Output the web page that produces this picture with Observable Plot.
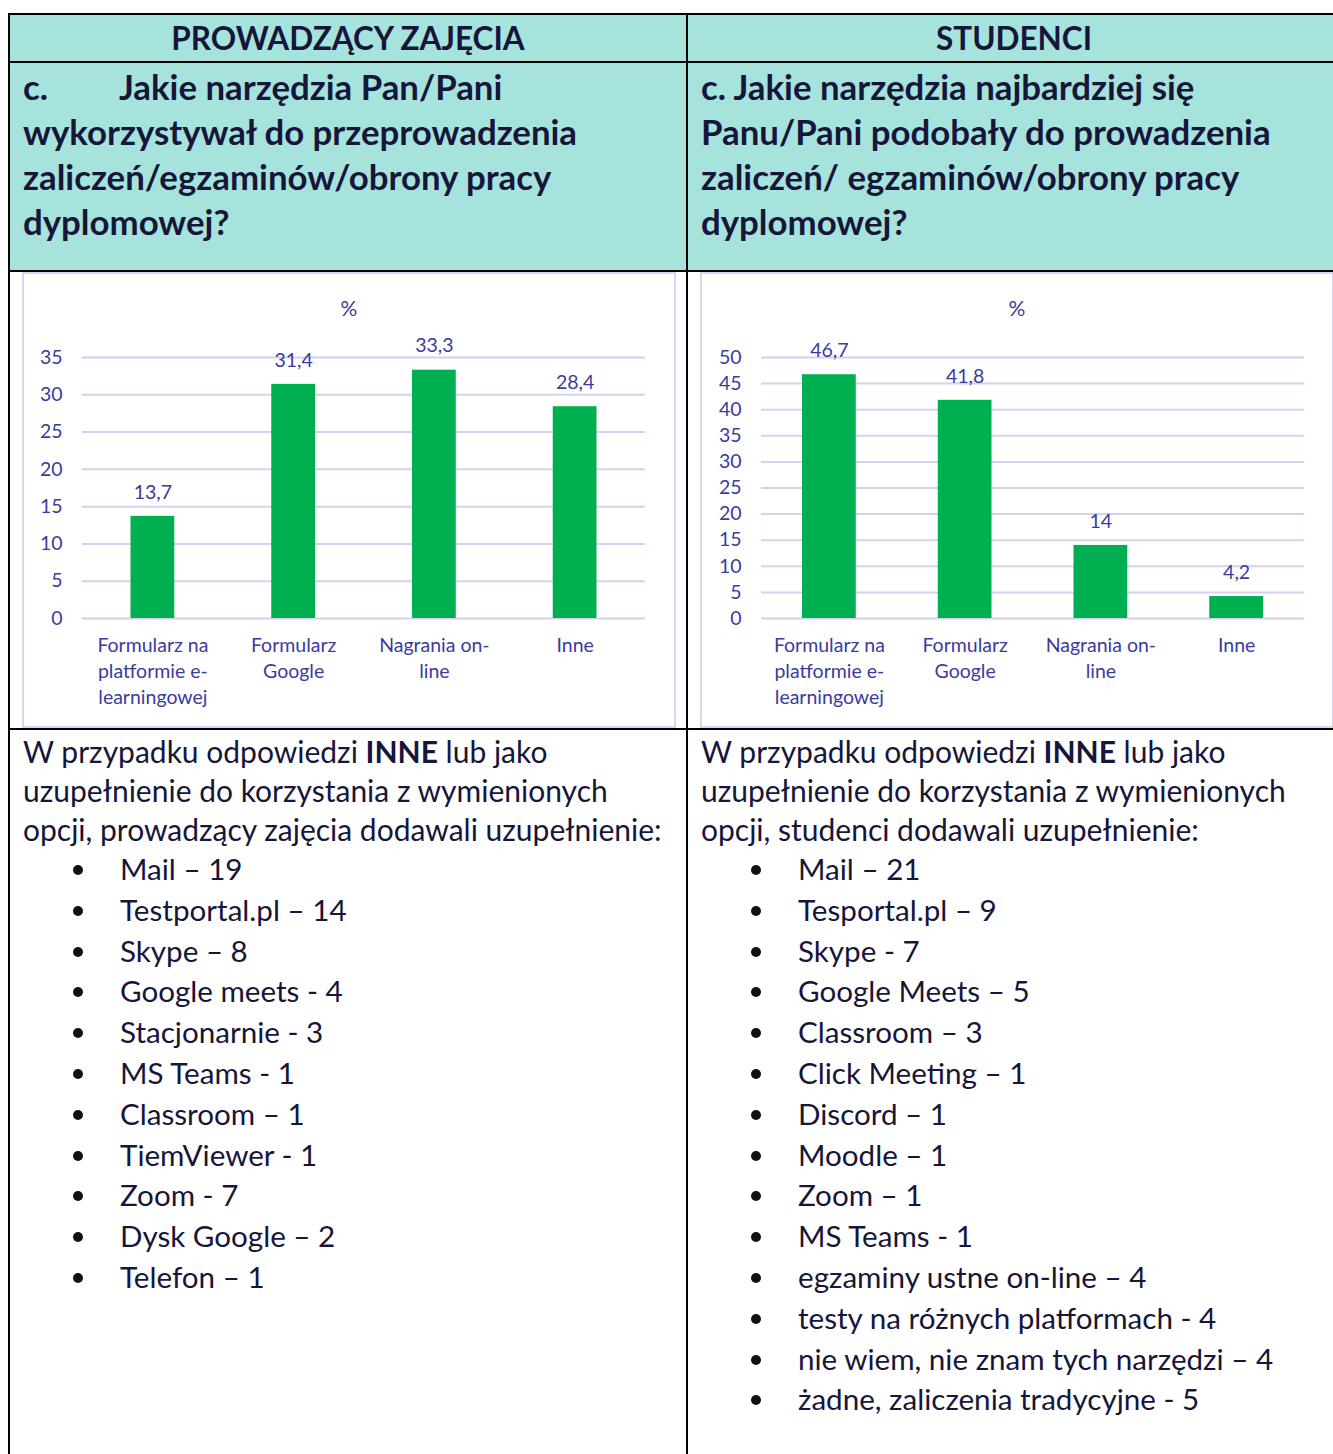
<!DOCTYPE html>
<html>
<head>
<meta charset="utf-8">
<script src="https://cdn.jsdelivr.net/npm/d3@7"></script>
<script src="https://cdn.jsdelivr.net/npm/@observablehq/plot@0.6"></script>
<style>
  html, body { margin: 0; padding: 0; background: #fff; }
  body { width: 1333px; height: 1454px; overflow: hidden; position: relative; font-family: Lato, "Open Sans", sans-serif; color: #16163a; }
  .abs { position: absolute; }
  .teal { background: #a7e3dd; }
  .hline { position: absolute; height: 2px; background: #000; }
  .vline { position: absolute; width: 2px; background: #000; }
  .h1 { font-weight: 700; font-size: 31.5px; text-align: center; line-height: 46px; }
  .h2 { font-weight: 700; font-size: 34.8px; line-height: 45px; white-space: nowrap; }
  .box { position: absolute; box-sizing: border-box; border: 2px solid #d8d4f2; background: #fff; }
  .pct { position: absolute; left: 0; right: 0; top: 21px; text-align: center; font-size: 21px; color: #3b3b9e; }
  .intro { font-size: 30px; line-height: 39px; white-space: nowrap; }
  .intro b { font-weight: 700; }
  ul { list-style: none; margin: 0; padding: 0; font-size: 29.6px; line-height: 40.8px; }
  li { position: relative; white-space: nowrap; }
  li .dot { position: absolute; width: 10px; height: 10px; border-radius: 50%; background: #111; top: 16px; }
</style>
</head>
<body>
<!-- teal header fills -->
<div class="abs teal" style="left:10px; top:15px; width:1340px; height:256px;"></div>

<!-- table lines -->
<div class="hline" style="left:8px; top:13px; width:1340px;"></div>
<div class="hline" style="left:8px; top:61px; width:1340px;"></div>
<div class="hline" style="left:8px; top:270px; width:1340px;"></div>
<div class="hline" style="left:8px; top:728px; width:1340px;"></div>
<div class="vline" style="left:8px; top:13px; height:1450px;"></div>
<div class="vline" style="left:686px; top:13px; height:1450px;"></div>

<!-- header row 1 -->
<div class="abs h1" style="left:10px; width:676px; top:15px;">PROWADZĄCY ZAJĘCIA</div>
<div class="abs h1" style="left:688px; width:652px; top:15px;">STUDENCI</div>

<!-- header row 2 -->
<div class="abs h2" style="left:23px; top:64px;">c.<span style="position:absolute; left:96px;">Jakie narzędzia Pan/Pani</span><br>wykorzystywał do przeprowadzenia<br>zaliczeń/egzaminów/obrony pracy<br>dyplomowej?</div>
<div class="abs h2" style="left:701px; top:64px;">c. Jakie narzędzia najbardziej się<br>Panu/Pani podobały do prowadzenia<br>zaliczeń/ egzaminów/obrony pracy<br>dyplomowej?</div>

<!-- chart boxes -->
<div class="box" id="boxL" style="left:22px; top:272px; width:654px; height:456px;"><div class="pct">%</div></div>
<div class="box" id="boxR" style="left:700px; top:272px; width:634px; height:456px;"><div class="pct">%</div></div>

<!-- text row -->
<div class="abs" style="left:23px; top:732px;">
  <div class="intro">W przypadku odpowiedzi <b>INNE</b> lub jako<br>uzupełnienie do korzystania z wymienionych<br>opcji, prowadzący zajęcia dodawali uzupełnienie:</div>
  <ul id="listL" style="margin-left:97px;"></ul>
</div>
<div class="abs" style="left:701px; top:732px;">
  <div class="intro">W przypadku odpowiedzi <b>INNE</b> lub jako<br>uzupełnienie do korzystania z wymienionych<br>opcji, studenci dodawali uzupełnienie:</div>
  <ul id="listR" style="margin-left:97px;"></ul>
</div>

<script>
// ---- data ----
const categories = ["Formularz na\nplatformie e-\nlearningowej", "Formularz\nGoogle", "Nagrania on-\nline", "Inne"];
const teacherValues = [13.7, 31.4, 33.3, 28.4];
const studentValues = [46.7, 41.8, 14, 4.2];
const teacherTicks = [0, 5, 10, 15, 20, 25, 30, 35];
const studentTicks = [0, 5, 10, 15, 20, 25, 30, 35, 40, 45, 50];

const teacherOther = ["Mail – 19", "Testportal.pl – 14", "Skype – 8", "Google meets - 4", "Stacjonarnie - 3", "MS Teams - 1", "Classroom – 1", "TiemViewer - 1", "Zoom - 7", "Dysk Google – 2", "Telefon – 1"];
const studentOther = ["Mail – 21", "Tesportal.pl – 9", "Skype - 7", "Google Meets – 5", "Classroom – 3", "Click Meeting – 1", "Discord – 1", "Moodle – 1", "Zoom – 1", "MS Teams - 1", "egzaminy ustne on-line – 4", "testy na różnych platformach - 4", "nie wiem, nie znam tych narzędzi – 4", "żadne, zaliczenia tradycyjne - 5"];

const fmt = v => String(v).replace(".", ",");
const textColor = "#3b3b9e";
const fs = 19.5;

function makeChart(values, ticks, yMax, width, marginLeft, marginRight, inset) {
  const data = categories.map((c, i) => ({cat: c, value: values[i]}));
  return Plot.plot({
    width,
    height: 452,
    marginLeft,
    marginRight,
    marginTop: 83,
    marginBottom: 108,
    x: {domain: categories, padding: 0, round: false, axis: null},
    y: {domain: [0, yMax], axis: null},
    style: {fontFamily: "Lato, sans-serif", fontSize: fs + "px", color: textColor, background: "transparent", overflow: "visible"},
    marks: [
      Plot.gridY(ticks, {stroke: "#d4d0f0", strokeOpacity: 1, strokeWidth: 2}),
      Plot.axisY(ticks, {label: null, tickSize: 0, tickPadding: 20, fontSize: fs, fill: textColor}),
      Plot.barY(data, {x: "cat", y: "value", fill: "#00b050", insetLeft: inset, insetRight: inset}),
      Plot.text(data, {x: "cat", y: "value", text: d => fmt(d.value), dy: -24, lineAnchor: "middle", fontSize: fs, fill: textColor}),
      Plot.text(data, {x: "cat", text: "cat", frameAnchor: "bottom", lineAnchor: "top", dy: 15, lineHeight: 26 / fs, fontSize: fs, fill: textColor})
    ]
  });
}

const cL = makeChart(teacherValues, teacherTicks, 35, 650, 58, 29, 48.5);
cL.style.position = "absolute"; cL.style.left = "0"; cL.style.top = "0";
document.getElementById("boxL").appendChild(cL);

const cR = makeChart(studentValues, studentTicks, 50, 630, 59, 28, 41);
cR.style.position = "absolute"; cR.style.left = "0"; cR.style.top = "0";
document.getElementById("boxR").appendChild(cR);

function fillList(id, items) {
  const ul = document.getElementById(id);
  for (const t of items) {
    const li = document.createElement("li");
    const dot = document.createElement("span");
    dot.className = "dot";
    dot.style.left = "-47px";
    li.appendChild(dot);
    li.appendChild(document.createTextNode(t));
    ul.appendChild(li);
  }
}
fillList("listL", teacherOther);
fillList("listR", studentOther);
</script>
</body>
</html>
